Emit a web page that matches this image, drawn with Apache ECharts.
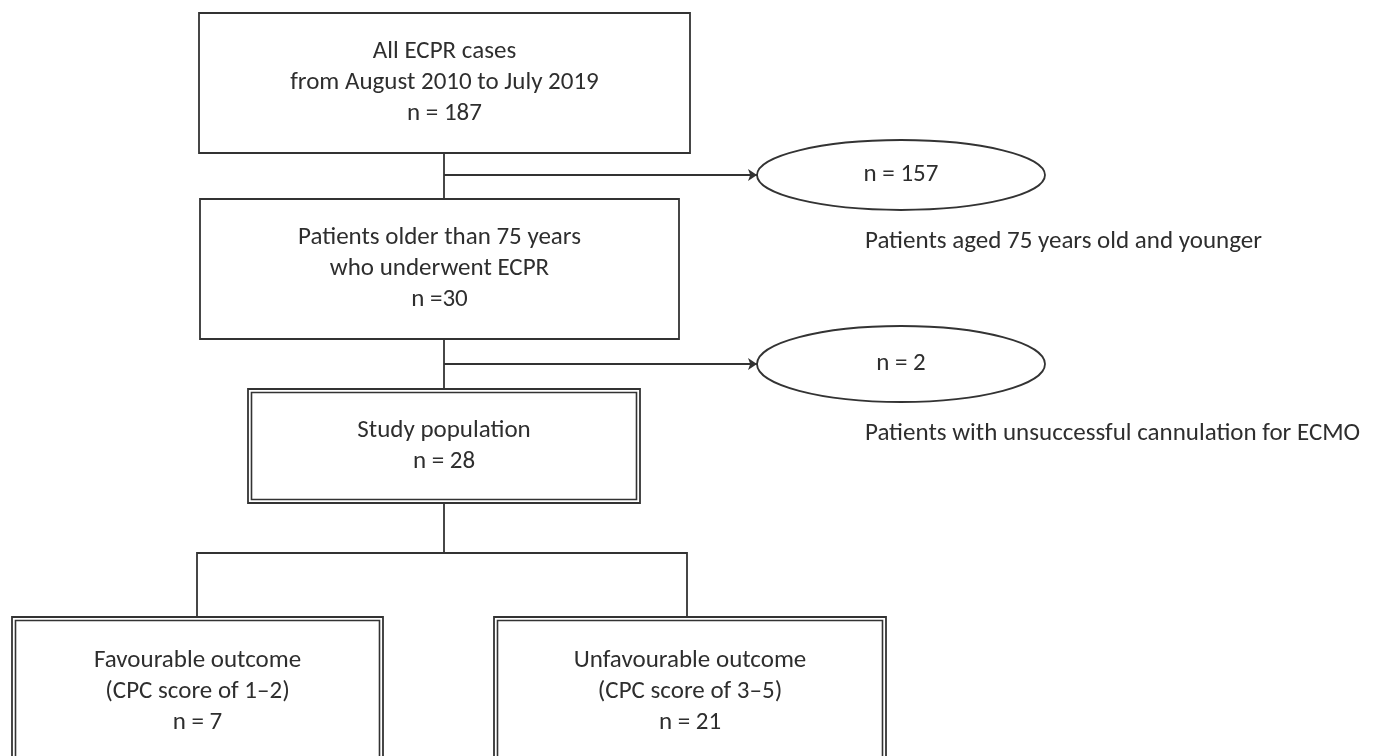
<!DOCTYPE html>
<html>
<head>
<meta charset="utf-8">
<script src="https://cdn.jsdelivr.net/npm/echarts@6/dist/echarts.min.js"></script>
<style>
  html, body { margin: 0; padding: 0; background: #fff; }
  #main { width: 1378px; height: 756px; }
</style>
</head>
<body>
<div id="main"></div>
<script>
// flow steps: titles and counts
const stepTitles = [
  "All ECPR cases\nfrom August 2010 to July 2019",
  "Patients older than 75 years\nwho underwent ECPR",
  "Study population",
  "Favourable outcome\n(CPC score of 1\u20132)",
  "Unfavourable outcome\n(CPC score of 3\u20135)"
];
const stepCounts = ["n = 187", "n =30", "n = 28", "n = 7", "n = 21"];
const excludedCounts = ["n = 157", "n = 2"];
const excludedLabels = [
  "Patients aged 75 years old and younger",
  "Patients with unsuccessful cannulation for ECMO"
];

// layout (page pixels): left, top, right, bottom, double border
const boxLayout = [
  [199, 13, 690, 153, 0],
  [200, 199, 679, 339, 0],
  [248, 389, 640, 503, 1],
  [12, 617, 383, 766, 1],
  [494, 617, 886, 766, 1]
];
// ellipses: cx, cy, rx, ry, label x, label y
const ovalLayout = [
  [901, 175, 144, 35, 865, 242],
  [901, 364, 144, 38, 865, 434]
];
const linkLayout = [
  [[444, 153], [444, 199]],
  [[444, 339], [444, 389]],
  [[444, 503], [444, 553]],
  [[197, 617], [197, 553], [687, 553], [687, 617]]
];
const arrowLayout = [
  [[444, 175], [757, 175]],
  [[444, 364], [757, 364]]
];

const LINE = "#333";
const TEXT = "#2e2e2e";
const FONT = "25px Carlito, Calibri, Lato, sans-serif";

var chart = echarts.init(document.getElementById("main"));

function renderBox(params, api) {
  const i = params.dataIndex;
  const p0 = api.coord([api.value(0), api.value(1)]);
  const p1 = api.coord([api.value(2), api.value(3)]);
  const w = p1[0] - p0[0];
  const h = p1[1] - p0[1];
  const children = [{
    type: "rect",
    shape: { x: p0[0], y: p0[1], width: w, height: h },
    style: { fill: "#fff", stroke: LINE, lineWidth: 1.8 }
  }];
  if (api.value(4)) {
    children.push({
      type: "rect",
      shape: { x: p0[0] + 3.5, y: p0[1] + 3.5, width: w - 7, height: h - 7 },
      style: { fill: "none", stroke: LINE, lineWidth: 1.6 }
    });
  }
  children.push({
    type: "text",
    style: {
      text: stepTitles[i] + "\n" + stepCounts[i],
      x: (p0[0] + p1[0]) / 2,
      y: (p0[1] + p1[1]) / 2,
      align: "center",
      verticalAlign: "middle",
      lineHeight: 31,
      font: FONT,
      fill: TEXT
    }
  });
  return { type: "group", children: children };
}

function renderOval(params, api) {
  const i = params.dataIndex;
  const c = api.coord([api.value(0), api.value(1)]);
  const s = api.size([api.value(2), api.value(3)]);
  const lp = api.coord([api.value(4), api.value(5)]);
  return {
    type: "group",
    children: [
      {
        type: "ellipse",
        shape: { cx: c[0], cy: c[1], rx: s[0], ry: s[1] },
        style: { fill: "#fff", stroke: LINE, lineWidth: 1.8 }
      },
      {
        type: "text",
        style: {
          text: excludedCounts[i], x: c[0], y: c[1],
          align: "center", verticalAlign: "middle", font: FONT, fill: TEXT
        }
      },
      {
        type: "text",
        style: {
          text: excludedLabels[i], x: lp[0], y: lp[1],
          align: "left", verticalAlign: "middle", font: FONT, fill: TEXT
        }
      }
    ]
  };
}

chart.setOption({
  backgroundColor: "#fff",
  animation: false,
  grid: { left: 0, right: 0, top: 0, bottom: 0 },
  xAxis: { type: "value", min: 0, max: 1378, show: false },
  yAxis: { type: "value", min: 0, max: 756, inverse: true, show: false },
  series: [
    {
      type: "lines",
      coordinateSystem: "cartesian2d",
      polyline: true,
      symbol: "none",
      lineStyle: { color: LINE, width: 1.8, opacity: 1 },
      data: linkLayout.map(c => ({ coords: c })),
      z: 1
    },
    {
      type: "lines",
      coordinateSystem: "cartesian2d",
      symbol: ["none", "arrow"],
      symbolSize: 9,
      lineStyle: { color: LINE, width: 1.8, opacity: 1 },
      data: arrowLayout.map(c => ({ coords: c })),
      z: 1
    },
    {
      type: "custom",
      clip: false,
      renderItem: renderBox,
      data: boxLayout,
      z: 2
    },
    {
      type: "custom",
      clip: false,
      renderItem: renderOval,
      data: ovalLayout,
      z: 2
    }
  ]
});
</script>
</body>
</html>
